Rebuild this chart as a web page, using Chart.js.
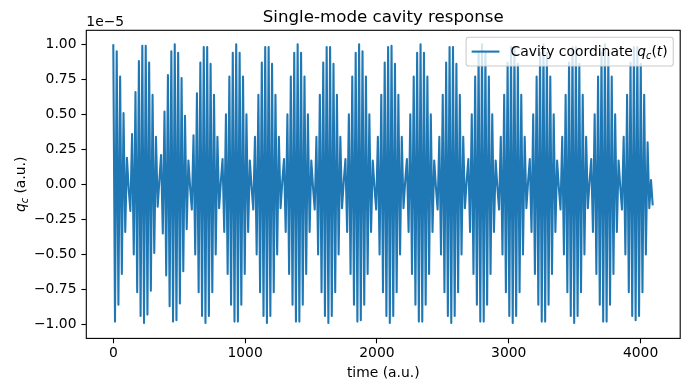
<!DOCTYPE html>
<html>
<head>
<meta charset="utf-8">
<script src="https://cdn.jsdelivr.net/npm/chart.js@4.4.1/dist/chart.umd.min.js"></script>
<style>
  html, body { margin: 0; padding: 0; background: #ffffff; }
  #wrap { width: 690px; height: 390px; }
</style>
</head>
<body>
<div id="wrap"><canvas id="c" width="690" height="390"></canvas></div>
<script>
// ---------------- data ----------------
// Successive extrema of the cavity coordinate q_c(t), in units of 1e-5.
const sampleStart = 0;      // time of first extremum (a.u.)
const sampleStep = 12.95;   // time between successive extrema (a.u.)
const qcBeat00 = [1.00,-0.98,0.95,-0.86,0.77,-0.64,0.51,-0.34,0.19,-0.03,-0.19,0.36,-0.50,0.66,-0.77,0.88,-0.94,0.99];
const qcBeat01 = [-0.99,0.99,-0.93,0.87,-0.76,0.64,-0.49,0.34,-0.16,0.03,0.21,-0.35,0.52,-0.65,0.78,-0.87,0.95,-0.98];
const qcBeat02 = [1.00,-0.97,0.94,-0.85,0.76,-0.62,0.49,-0.32,0.17,-0.02,-0.18,0.35,-0.50,0.65,-0.77,0.87,-0.94,0.98];
const qcBeat03 = [-0.99,0.98,-0.94,0.86,-0.77,0.64,-0.50,0.34,-0.17,0.02,0.18,-0.34,0.50,-0.64,0.77,-0.86,0.94,-0.98];
const qcBeat04 = [1.00,-0.98,0.94,-0.86,0.77,-0.64,0.50,-0.34,0.17,-0.02,-0.18,0.34,-0.50,0.64,-0.77,0.87,-0.94,0.98];
const qcBeat05 = [-0.99,0.98,-0.94,0.86,-0.77,0.64,-0.50,0.34,-0.17,0.02,0.18,-0.34,0.50,-0.64,0.77,-0.86,0.94,-0.98];
const qcBeat06 = [1.00,-0.98,0.94,-0.86,0.77,-0.64,0.50,-0.34,0.17,-0.02,-0.18,0.34,-0.50,0.64,-0.77,0.87,-0.94,0.98];
const qcBeat07 = [-0.99,0.98,-0.94,0.86,-0.77,0.64,-0.50,0.34,-0.17,0.02,0.18,-0.34,0.50,-0.64,0.77,-0.86,0.94,-0.98];
const qcBeat08 = [1.00,-0.97,0.95,-0.86,0.77,-0.64,0.50,-0.34,0.17,-0.02,-0.18,0.34,-0.50,0.64,-0.77,0.87,-0.94,0.98];
const qcBeat09 = [-0.99,0.99,-0.94,0.86,-0.77,0.64,-0.50,0.34,-0.17,0.02,0.18,-0.34,0.50,-0.64,0.77,-0.86,0.94,-0.98];
const qcBeat10 = [1.00,-0.98,0.94,-0.86,0.77,-0.64,0.50,-0.34,0.17,-0.02,-0.18,0.34,-0.50,0.64,-0.77,0.87,-0.94,0.98];
const qcBeat11 = [-0.99,0.98,-0.94,0.86,-0.77,0.64,-0.50,0.34,-0.17,0.02,0.18,-0.34,0.50,-0.64,0.77,-0.86,0.94,-0.98];
const qcBeat12 = [1.00,-0.98,0.94,-0.86,0.77,-0.64,0.50,-0.34,0.17,-0.02,-0.18,0.34,-0.50,0.64,-0.77,0.87,-0.94,0.98];
const qcBeat13 = [-0.99,0.98,-0.94,0.86,-0.77,0.64,-0.50,0.34,-0.17,0.02,0.18,-0.34,0.50,-0.64,0.77,-0.86,0.94,-0.98];
const qcBeat14 = [1.00,-0.98,0.94,-0.86,0.77,-0.64,0.50,-0.34,0.17,-0.02,-0.18,0.34,-0.50,0.64,-0.77,0.87,-0.94,0.98];
const qcBeat15 = [-0.99,0.98,-0.94,0.86,-0.77,0.64,-0.50,0.34,-0.17,0.02,0.18,-0.34,0.50,-0.64,0.77,-0.86,0.94,-0.98];
const qcBeat16 = [1.00,-0.98,0.94,-0.86,0.77,-0.64,0.50,-0.34,0.17,-0.02,-0.18,0.34,-0.50,0.64,-0.77,0.87,-0.94,0.98];
const qcBeat17 = [-0.97,0.98,-0.94,0.86,-0.77,0.64,-0.50,0.30,-0.17,0.03,-0.15];

const xTicks = [0, 1000, 2000, 3000, 4000];
const yTicks = [-1.00, -0.75, -0.50, -0.25, 0.00, 0.25, 0.50, 0.75, 1.00];
const xRange = [-204.8, 4300.8];
const yRange = [-1.1, 1.1];

const titleText = 'Single-mode cavity response';
const xLabelText = 'time (a.u.)';
const offsetText = '1e\u22125';
const seriesName = 'Cavity coordinate q_c(t)';

// ---------------- build ----------------
const qcValues = [].concat(qcBeat00, qcBeat01, qcBeat02, qcBeat03, qcBeat04, qcBeat05,
  qcBeat06, qcBeat07, qcBeat08, qcBeat09, qcBeat10, qcBeat11, qcBeat12, qcBeat13,
  qcBeat14, qcBeat15, qcBeat16, qcBeat17);
const points = qcValues.map((v, i) => ({ x: sampleStart + i * sampleStep, y: v }));

const FONT = "'DejaVu Sans', 'Liberation Sans', sans-serif";
const BLUE = '#1f77b4';
const LW = 2.08; // 1.5 pt at 100 dpi
const fmtMinus = s => s.replace('-', '\u2212');

function drawMath(ctx, parts, x, y, size) {
  let cx = x;
  for (const p of parts) {
    const fs = p.sub ? size * 0.7 : size;
    ctx.font = (p.italic ? 'italic ' : '') + fs + 'px ' + FONT;
    ctx.fillText(p.t, cx, y + (p.sub ? size * 0.2 : 0));
    cx += ctx.measureText(p.t).width;
  }
  return cx - x;
}
function measureMath(ctx, parts, size) {
  let w = 0;
  for (const p of parts) {
    const fs = p.sub ? size * 0.7 : size;
    ctx.font = (p.italic ? 'italic ' : '') + fs + 'px ' + FONT;
    w += ctx.measureText(p.t).width;
  }
  return w;
}

const decorPlugin = {
  id: 'decor',
  afterDatasetsDraw(chart) {
    const { ctx, chartArea: a } = chart;
    ctx.save();
    ctx.strokeStyle = '#000';
    ctx.lineWidth = 1.1;
    ctx.strokeRect(a.left, a.top, a.right - a.left, a.bottom - a.top);
    ctx.restore();
  },
  afterDraw(chart) {
    const { ctx, chartArea: a } = chart;
    const cx = (a.left + a.right) / 2;
    const cy = (a.top + a.bottom) / 2;
    ctx.save();
    ctx.fillStyle = '#000';
    ctx.textBaseline = 'alphabetic';

    ctx.font = '16.67px ' + FONT;
    ctx.textAlign = 'center';
    ctx.fillText(titleText, cx, a.top - 8.3);

    ctx.font = '13.89px ' + FONT;
    ctx.fillText(xLabelText, cx, 377);

    ctx.textAlign = 'left';
    ctx.font = '13.89px ' + FONT;
    ctx.fillText(offsetText, a.left, a.top - 4.5);

    const yParts = [{ t: 'q', italic: true }, { t: 'c', italic: true, sub: true }, { t: ' (a.u.)' }];
    const yw = measureMath(ctx, yParts, 13.89);
    ctx.save();
    ctx.translate(25, cy);
    ctx.rotate(-Math.PI / 2);
    drawMath(ctx, yParts, -yw / 2, 0, 13.89);
    ctx.restore();

    const lParts = [{ t: 'Cavity coordinate ' }, { t: 'q', italic: true }, { t: 'c', italic: true, sub: true },
                    { t: '(' }, { t: 't', italic: true }, { t: ')' }];
    const tw = measureMath(ctx, lParts, 13.89);
    const right = a.right - 6.95, top = a.top + 6.95;
    const left = right - (5.56 + 27.8 + 11.1 + tw + 5.56);
    const bottom = top + 28.7;
    const r = 2.8;
    ctx.beginPath();
    ctx.moveTo(left + r, top);
    ctx.lineTo(right - r, top);
    ctx.arcTo(right, top, right, top + r, r);
    ctx.lineTo(right, bottom - r);
    ctx.arcTo(right, bottom, right - r, bottom, r);
    ctx.lineTo(left + r, bottom);
    ctx.arcTo(left, bottom, left, bottom - r, r);
    ctx.lineTo(left, top + r);
    ctx.arcTo(left, top, left + r, top, r);
    ctx.closePath();
    ctx.fillStyle = 'rgba(255,255,255,0.8)';
    ctx.fill();
    ctx.strokeStyle = '#cccccc';
    ctx.lineWidth = 1.1;
    ctx.stroke();
    const midY = (top + bottom) / 2;
    ctx.beginPath();
    ctx.moveTo(left + 5.56, midY);
    ctx.lineTo(left + 5.56 + 27.8, midY);
    ctx.strokeStyle = BLUE;
    ctx.lineWidth = LW;
    ctx.stroke();
    ctx.fillStyle = '#000';
    drawMath(ctx, lParts, left + 5.56 + 27.8 + 11.1, midY + 4.6, 13.89);
    ctx.restore();
  }
};

new Chart(document.getElementById('c'), {
  type: 'line',
  data: {
    datasets: [{
      label: seriesName,
      data: points,
      borderColor: BLUE,
      backgroundColor: BLUE,
      borderWidth: LW,
      borderJoinStyle: 'round',
      pointRadius: 0,
      tension: 0,
      fill: false
    }]
  },
  options: {
    responsive: false,
    devicePixelRatio: 1,
    animation: false,
    events: [],
    layout: { padding: { top: 30.3, right: 9.8, bottom: 0, left: 0 } },
    plugins: { legend: { display: false }, tooltip: { enabled: false }, title: { display: false } },
    scales: {
      x: {
        type: 'linear',
        min: xRange[0], max: xRange[1],
        afterFit: s => { s.height = 390 - 338.4; },
        afterBuildTicks: s => { s.ticks = xTicks.map(v => ({ value: v })); },
        border: { display: false },
        grid: { drawOnChartArea: false, drawTicks: true, tickLength: 4.9, tickColor: '#000', tickWidth: 1.1 },
        ticks: {
          color: '#000', padding: 2.0, maxRotation: 0, autoSkip: false,
          font: { family: FONT, size: 13.89 },
          callback: v => String(v)
        }
      },
      y: {
        type: 'linear',
        min: yRange[0], max: yRange[1],
        afterFit: s => { s.width = 86.3; },
        afterBuildTicks: s => { s.ticks = yTicks.map(v => ({ value: v })); },
        border: { display: false },
        grid: { drawOnChartArea: false, drawTicks: true, tickLength: 4.9, tickColor: '#000', tickWidth: 1.1 },
        ticks: {
          color: '#000', padding: 4.9, autoSkip: false,
          font: { family: FONT, size: 13.89 },
          callback: v => fmtMinus(Number(v).toFixed(2))
        }
      }
    }
  },
  plugins: [decorPlugin]
});
</script>
</body>
</html>
